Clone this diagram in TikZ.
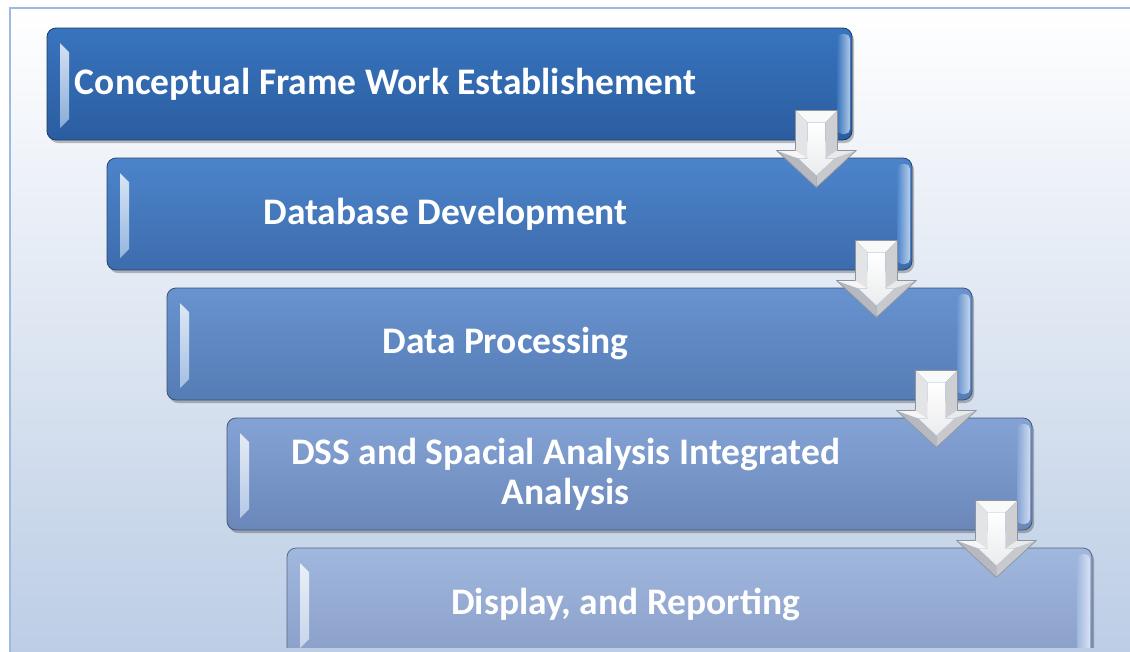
\documentclass[tikz,border=0pt]{standalone}
\usepackage{fontspec}
\setmainfont{Carlito}
\usetikzlibrary{shadows}
\definecolor{bgbot}{HTML}{BCCDE5}
\definecolor{bgmid}{HTML}{E2EAF4}
\definecolor{framec}{HTML}{9DBBE0}
\definecolor{cAt}{HTML}{3874BE}\definecolor{cAb}{HTML}{2B5DA0}
\definecolor{cBt}{HTML}{4C84CA}\definecolor{cBb}{HTML}{3D6CAD}
\definecolor{cCt}{HTML}{6893D0}\definecolor{cCb}{HTML}{567CB4}
\definecolor{cDt}{HTML}{84A3D5}\definecolor{cDb}{HTML}{6B87BA}
\definecolor{cEt}{HTML}{A0B7DE}\definecolor{cEb}{HTML}{8A9FC8}
\definecolor{arO}{HTML}{8F949C}
\tikzset{
  box/.style 2 args={draw=#2!65!black, line width=0.8pt, rounded corners=9pt,
    minimum width=805pt, minimum height=112pt, inner sep=0pt,
    top color=#1, bottom color=#2,
    drop shadow={shadow xshift=2pt, shadow yshift=-3pt, opacity=0.25, fill=black},
    path picture={
      \shade[sharp corners, top color=white!85!#1, bottom color=white!35!#1]
        ([shift={(13,15)}]path picture bounding box.north west)
        -- ([shift={(22,24)}]path picture bounding box.north west)
        -- ([shift={(22,-21)}]path picture bounding box.south west)
        -- ([shift={(13,-12)}]path picture bounding box.south west) -- cycle;
      \shade[left color=#1, right color=white!60!#1, rounded corners=5pt]
        ([shift={(-15,6)}]path picture bounding box.north east)
        rectangle ([shift={(-2,-6)}]path picture bounding box.south east);
    }},
  lbl/.style={text=white, font=\bfseries\fontsize{37.5}{40}\selectfont, align=center, inner sep=0pt},
  pics/downarrow/.style={code={
    \fill[fill=white!94!arO] (-21,0) -- (21,0) -- (9,12) -- (-9,12) -- cycle;
    \fill[fill=white!55!arO] (21,0) -- (21,40) -- (9,48) -- (9,12) -- cycle;
    \fill[fill=white!80!arO] (21,40) -- (40,40) -- (18,48) -- (9,48) -- cycle;
    \fill[fill=white!50!arO] (40,40) -- (0,77) -- (0,65) -- (18,48) -- cycle;
    \fill[fill=white!35!arO] (0,77) -- (-40,40) -- (-18,48) -- (0,65) -- cycle;
    \fill[fill=white!92!arO] (-40,40) -- (-21,40) -- (-9,48) -- (-18,48) -- cycle;
    \fill[fill=white!75!arO] (-21,40) -- (-21,0) -- (-9,12) -- (-9,48) -- cycle;
    \shade[top color=white, bottom color=white!82!arO]
      (-9,12) -- (9,12) -- (9,48) -- (18,48) -- (0,65) -- (-18,48) -- (-9,48) -- cycle;
    \draw[arO, line width=0.7pt, line join=round]
      (-21,0) -- (21,0) -- (21,40) -- (40,40) -- (0,77) -- (-40,40) -- (-21,40) -- cycle;
  }}
}
\begin{document}
\begin{tikzpicture}[x=1pt,y=-1pt]
\useasboundingbox (0,0) rectangle (1130,651);
\fill[white] (0,0) rectangle (1130,651);
\shade[top color=white, middle color=bgmid, bottom color=bgbot] (10,8) rectangle (1140,655);
\draw[framec, line width=1.6pt] (10,660) -- (10,8) -- (1140,8);
\begin{scope}
\clip (0,0) rectangle (1130,647);
\node[box={cAt}{cAb}] (b1) at (449.5,84) {};
\node[box={cBt}{cBb}] (b2) at ([shift={(60,130)}]b1.center) {};
\node[box={cCt}{cCb}] (b3) at ([shift={(60,130)}]b2.center) {};
\node[box={cDt}{cDb}] (b4) at ([shift={(60,130)}]b3.center) {};
\node[box={cEt}{cEb}] (b5) at ([shift={(60,130)}]b4.center) {};
\end{scope}
\node[lbl] (t1) at ([xshift=339pt]b1.west) {Conceptual Frame Work Establishement};
\node[lbl] (t2) at ([xshift=339pt]b2.west) {Database Development};
\node[lbl] (t3) at ([xshift=339pt]b3.west) {Data Processing};
\node[lbl] (t4) at ([xshift=339pt]b4.west) {DSS and Spacial Analysis Integrated\\Analysis};
\node[lbl] (t5) at ([xshift=339pt]b5.west) {Display, and Reporting};
\pic (a1) at ([shift={(-36,-30)}]b1.south east) {downarrow};
\pic (a2) at ([shift={(-36,-30)}]b2.south east) {downarrow};
\pic (a3) at ([shift={(-36,-30)}]b3.south east) {downarrow};
\pic (a4) at ([shift={(-36,-30)}]b4.south east) {downarrow};
\end{tikzpicture}
\end{document}
